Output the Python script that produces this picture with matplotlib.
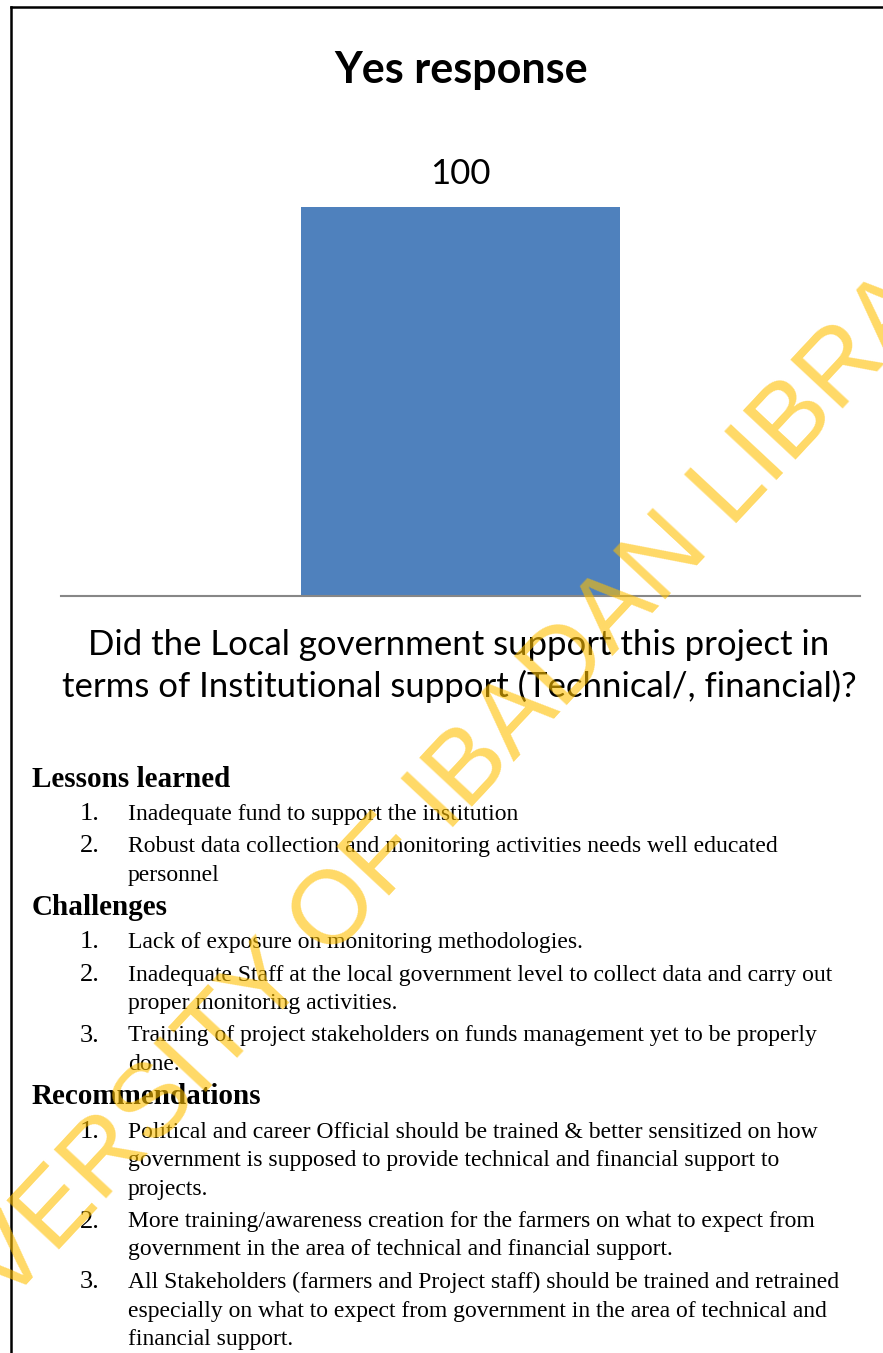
import matplotlib
matplotlib.use("Agg")
import matplotlib.pyplot as plt
from matplotlib.lines import Line2D

# chart data
categories = ["Yes"]
values = [100]
chart_title = "Yes response"
axis_title = ("Did the Local government support this project in\n"
              "terms of Institutional support (Technical/, financial)?")

# report text below the chart
lessons = [
    ["Inadequate fund to support the institution"],
    ["Robust data collection and monitoring activities needs well educated",
     "personnel"],
]
challenges = [
    ["Lack of exposure on monitoring methodologies."],
    ["Inadequate Staff at the local government level to collect data and carry out",
     "proper monitoring activities."],
    ["Training of project stakeholders on funds management yet to be properly",
     "done."],
]
recommendations = [
    ["Political and career Official should be trained & better sensitized on how",
     "government is supposed to provide technical and financial support to",
     "projects."],
    ["More training/awareness creation for the farmers on what to expect from",
     "government in the area of technical and financial support."],
    ["All Stakeholders (farmers and Project staff) should be trained and retrained",
     "especially on what to expect from government in the area of technical and",
     "financial support."],
]
sections = [("Lessons learned", lessons),
            ("Challenges", challenges),
            ("Recommendations", recommendations)]

W, H = 883, 1353
fig = plt.figure(figsize=(W / 100, H / 100), dpi=100)
fig.patch.set_facecolor("white")


def fx(px):
    return px / W


def fy(py):
    return 1 - py / H


sans = ["Lato", "DejaVu Sans"]
serif = ["Liberation Serif", "DejaVu Serif"]

# bar chart
ax = fig.add_axes([fx(61), fy(596), fx(860) - fx(61), fy(129) - fy(596)])
bars = ax.bar(categories, values, width=0.4, color="#4F81BD")
ax.set_xlim(-0.5, 0.5)
ax.set_ylim(0, 120)
for b, v in zip(bars, values):
    ax.annotate(str(v), (b.get_x() + b.get_width() / 2, v),
                xytext=(0, 12), textcoords="offset points",
                ha="center", va="bottom", fontsize=25, family=sans)
for s in ["top", "right", "left"]:
    ax.spines[s].set_visible(False)
ax.spines["bottom"].set_color("#878787")
ax.spines["bottom"].set_linewidth(1.5)
ax.set_xticks([])
ax.set_yticks([])
ax.patch.set_alpha(0)

fig.text(fx(461), fy(70), chart_title, ha="center", va="center",
         fontsize=31, fontweight="bold", family=sans)
fig.text(fx(459), fy(666), axis_title, ha="center", va="center",
         fontsize=25, family=sans, linespacing=1.32)

# lessons / challenges / recommendations
y = 779
line_step = 28.5
for heading, items in sections:
    fig.text(fx(32), fy(y), heading, ha="left", va="center",
             fontsize=21, fontweight="bold", family=serif)
    y += 35
    for i, lines in enumerate(items, start=1):
        fig.text(fx(80), fy(y), f"{i}.", ha="left", va="center",
                 fontsize=19, family=serif)
        for j, line in enumerate(lines):
            fig.text(fx(128), fy(y + j * line_step), line, ha="left",
                     va="center", fontsize=17, family=serif)
        y += len(lines) * line_step + 4

# page frame (left and top edges)
fig.add_artist(Line2D([fx(11), fx(11)], [fy(7), 0], color="black", lw=1.8))
fig.add_artist(Line2D([fx(11), 1], [fy(7), fy(7)], color="black", lw=1.8))

# library watermark
fig.text(fx(440), fy(803), "UNIVERSITY OF IBADAN LIBRARY", ha="center",
         va="center", rotation=47, rotation_mode="anchor", fontsize=75,
         family=["Liberation Sans", "DejaVu Sans"],
         color="#FFC000", alpha=0.6, zorder=10)

fig.savefig("out.png", dpi=100)
